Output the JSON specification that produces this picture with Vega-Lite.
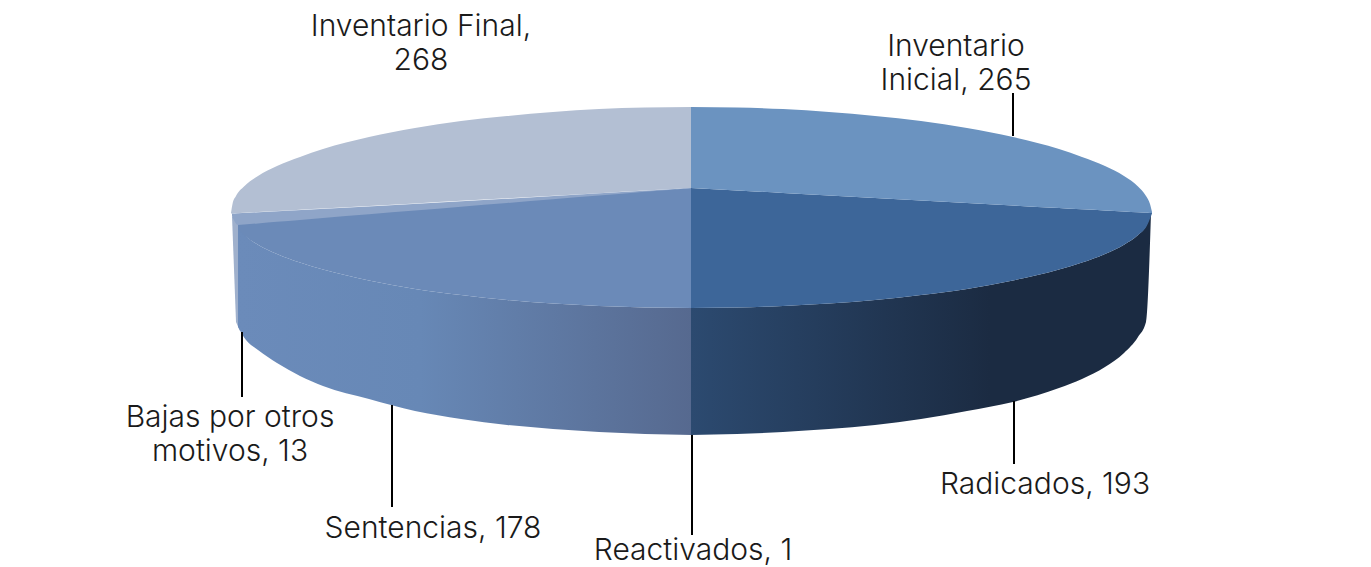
{"$schema":"https://vega.github.io/schema/vega-lite/v6.json","autosize":{"type":"none"},"width":1371,"height":567,"padding":0,"background":"white","config":{"view":{"stroke":null}},
"datasets":{
"walls":[
{"part":"Sentencias","x":238,"y":226,"y2":327},{"part":"Sentencias","x":246,"y":236,"y2":340},{"part":"Sentencias","x":258,"y":244.7,"y2":350},{"part":"Sentencias","x":277,"y":254,"y2":363},{"part":"Sentencias","x":300,"y":262.6,"y2":376},{"part":"Sentencias","x":323,"y":269.6,"y2":386},{"part":"Sentencias","x":369,"y":280.5,"y2":399},{"part":"Sentencias","x":415,"y":289,"y2":411},{"part":"Sentencias","x":461,"y":295,"y2":419},{"part":"Sentencias","x":507,"y":300,"y2":425},{"part":"Sentencias","x":553,"y":303.6,"y2":429},{"part":"Sentencias","x":599,"y":306,"y2":432},{"part":"Sentencias","x":645,"y":307.5,"y2":434},{"part":"Sentencias","x":692,"y":308,"y2":435},
{"part":"Radicados","x":691,"y":308,"y2":435},{"part":"Radicados","x":737,"y":307.5,"y2":434},{"part":"Radicados","x":783,"y":306,"y2":432},{"part":"Radicados","x":829,"y":303.6,"y2":429},{"part":"Radicados","x":875,"y":300,"y2":425},{"part":"Radicados","x":921,"y":295,"y2":419},{"part":"Radicados","x":967,"y":289,"y2":411},{"part":"Radicados","x":1013,"y":280.5,"y2":402},{"part":"Radicados","x":1059,"y":269.6,"y2":388},{"part":"Radicados","x":1082,"y":262.6,"y2":379},{"part":"Radicados","x":1105,"y":254,"y2":367},{"part":"Radicados","x":1124,"y":244.7,"y2":353},{"part":"Radicados","x":1138,"y":235,"y2":337},{"part":"Radicados","x":1146,"y":226,"y2":322},{"part":"Radicados","x":1151,"y":213,"y2":213},
{"part":"Bajas","x":232,"y":216,"y2":216},{"part":"Bajas","x":236,"y":220,"y2":322},{"part":"Bajas","x":240,"y":225,"y2":331}
],
"tops":[
{"part":"Inventario Final","x":231,"y":213,"y2":213.5},{"part":"Inventario Final","x":232.5,"y":204,"y2":213.4},{"part":"Inventario Final","x":236,"y":196,"y2":213.2},{"part":"Inventario Final","x":244,"y":186.5,"y2":212.8},{"part":"Inventario Final","x":258,"y":176,"y2":212},{"part":"Inventario Final","x":277,"y":166,"y2":211},{"part":"Inventario Final","x":300,"y":157,"y2":209.7},{"part":"Inventario Final","x":323,"y":149,"y2":208.5},{"part":"Inventario Final","x":369,"y":137,"y2":206},{"part":"Inventario Final","x":415,"y":128,"y2":203.4},{"part":"Inventario Final","x":461,"y":121,"y2":200.8},{"part":"Inventario Final","x":507,"y":116,"y2":198.3},{"part":"Inventario Final","x":553,"y":112,"y2":195.7},{"part":"Inventario Final","x":599,"y":109,"y2":193.2},{"part":"Inventario Final","x":645,"y":107.5,"y2":190.6},{"part":"Inventario Final","x":692,"y":107,"y2":188},
{"part":"Bajas","x":232,"y":213.5,"y2":216},{"part":"Bajas","x":238,"y":213.2,"y2":225},{"part":"Bajas","x":692,"y":188,"y2":188},
{"part":"Sentencias","x":238,"y":225,"y2":229},{"part":"Sentencias","x":244,"y":224.5,"y2":235},{"part":"Sentencias","x":258,"y":223.4,"y2":244.7},{"part":"Sentencias","x":277,"y":221.8,"y2":254},{"part":"Sentencias","x":300,"y":220,"y2":262.6},{"part":"Sentencias","x":323,"y":218,"y2":269.6},{"part":"Sentencias","x":369,"y":214.3,"y2":280.5},{"part":"Sentencias","x":415,"y":210.6,"y2":289},{"part":"Sentencias","x":461,"y":206.8,"y2":295},{"part":"Sentencias","x":507,"y":203.1,"y2":300},{"part":"Sentencias","x":553,"y":199.3,"y2":303.6},{"part":"Sentencias","x":599,"y":195.6,"y2":306},{"part":"Sentencias","x":645,"y":191.8,"y2":307.5},{"part":"Sentencias","x":692,"y":188,"y2":308},
{"part":"Radicados","x":691,"y":188,"y2":308},{"part":"Radicados","x":737,"y":190.5,"y2":307.5},{"part":"Radicados","x":783,"y":193,"y2":306},{"part":"Radicados","x":829,"y":195.5,"y2":303.6},{"part":"Radicados","x":875,"y":198,"y2":300},{"part":"Radicados","x":921,"y":200.5,"y2":295},{"part":"Radicados","x":967,"y":203,"y2":289},{"part":"Radicados","x":1013,"y":205.5,"y2":280.5},{"part":"Radicados","x":1059,"y":208,"y2":269.6},{"part":"Radicados","x":1082,"y":209.3,"y2":262.6},{"part":"Radicados","x":1105,"y":210.5,"y2":254},{"part":"Radicados","x":1124,"y":211.5,"y2":244.7},{"part":"Radicados","x":1138,"y":212.3,"y2":235},{"part":"Radicados","x":1147,"y":212.8,"y2":225.5},{"part":"Radicados","x":1152,"y":213,"y2":213.5},
{"part":"Inventario Inicial","x":691,"y":107,"y2":188},{"part":"Inventario Inicial","x":737,"y":107.5,"y2":190.5},{"part":"Inventario Inicial","x":783,"y":109,"y2":193},{"part":"Inventario Inicial","x":829,"y":112,"y2":195.5},{"part":"Inventario Inicial","x":875,"y":116,"y2":198},{"part":"Inventario Inicial","x":921,"y":121,"y2":200.5},{"part":"Inventario Inicial","x":967,"y":128,"y2":203},{"part":"Inventario Inicial","x":1013,"y":137,"y2":205.5},{"part":"Inventario Inicial","x":1059,"y":149,"y2":208},{"part":"Inventario Inicial","x":1082,"y":157,"y2":209.3},{"part":"Inventario Inicial","x":1105,"y":166,"y2":210.5},{"part":"Inventario Inicial","x":1124,"y":176,"y2":211.5},{"part":"Inventario Inicial","x":1138,"y":186.5,"y2":212.3},{"part":"Inventario Inicial","x":1146,"y":196,"y2":212.7},{"part":"Inventario Inicial","x":1150,"y":204,"y2":212.9},{"part":"Inventario Inicial","x":1152,"y":212,"y2":213}
],
"leaders":[
{"name":"Inventario Inicial","x":1013,"y":93,"y2":136},{"name":"Radicados","x":1014,"y":401,"y2":464},{"name":"Reactivados","x":692,"y":435,"y2":535},{"name":"Sentencias","x":392,"y":405,"y2":507},{"name":"Bajas por otros motivos","x":242,"y":332,"y2":397}
],
"labels":[
{"label":"Inventario Final,\n268","x":421,"y":12},{"label":"Inventario\nInicial, 265","x":956,"y":32},{"label":"Radicados, 193","x":1045,"y":470},{"label":"Reactivados, 1","x":693,"y":536},{"label":"Sentencias, 178","x":433,"y":514},{"label":"Bajas por otros\nmotivos, 13","x":230,"y":403}
]},
"layer":[
{"data":{"name":"walls"},"transform":[{"filter":"datum.part==='Bajas'"}],"mark":{"type":"area","color":"#9fb0cc"},"encoding":{"x":{"field":"x","type":"quantitative","scale":{"domain":[0,1371],"nice":false,"zero":false},"axis":null},"y":{"field":"y","type":"quantitative","scale":{"domain":[567,0],"nice":false,"zero":false},"axis":null},"y2":{"field":"y2"}}},
{"data":{"name":"walls"},"transform":[{"filter":"datum.part==='Sentencias'"}],"mark":{"type":"area","interpolate":"monotone","color":{"gradient":"linear","x1":0,"y1":0,"x2":1,"y2":0,"stops":[{"offset":0,"color":"#6b8bba"},{"offset":0.4,"color":"#6788b6"},{"offset":1,"color":"#56698f"}]}},"encoding":{"x":{"field":"x","type":"quantitative","axis":null},"y":{"field":"y","type":"quantitative","axis":null},"y2":{"field":"y2"}}},
{"data":{"name":"walls"},"transform":[{"filter":"datum.part==='Radicados'"}],"mark":{"type":"area","interpolate":"monotone","color":{"gradient":"linear","x1":0,"y1":0,"x2":1,"y2":0,"stops":[{"offset":0,"color":"#2c4a70"},{"offset":0.65,"color":"#1b2b42"},{"offset":1,"color":"#1b2b42"}]}},"encoding":{"x":{"field":"x","type":"quantitative","axis":null},"y":{"field":"y","type":"quantitative","axis":null},"y2":{"field":"y2"}}},
{"data":{"name":"tops"},"mark":{"type":"area","interpolate":"monotone"},"encoding":{"x":{"field":"x","type":"quantitative","axis":null},"y":{"field":"y","type":"quantitative","axis":null,"stack":null},"y2":{"field":"y2"},"color":{"field":"part","type":"nominal","legend":null,"scale":{"domain":["Inventario Final","Bajas","Sentencias","Radicados","Inventario Inicial"],"range":["#b3bfd3","#8fa5c8","#6b8ab8","#3d6699","#6b93c0"]}}}},
{"data":{"name":"leaders"},"mark":{"type":"rule","color":"#000000","strokeWidth":2},"encoding":{"x":{"field":"x","type":"quantitative","axis":null},"y":{"field":"y","type":"quantitative","axis":null},"y2":{"field":"y2"}}},
{"data":{"name":"labels"},"mark":{"type":"text","font":"Inter","fontSize":30,"fontWeight":300,"color":"#1a1a1a","align":"center","baseline":"top","lineBreak":"\n","lineHeight":33.5},"encoding":{"x":{"field":"x","type":"quantitative","axis":null},"y":{"field":"y","type":"quantitative","axis":null},"text":{"field":"label"}}}
]}
